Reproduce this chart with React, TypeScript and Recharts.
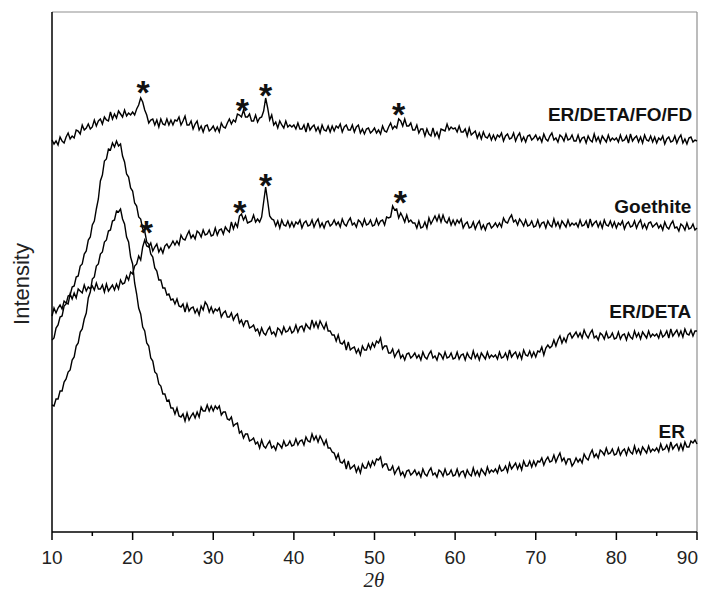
import React from 'react';
import { LineChart, Line, XAxis, YAxis, ReferenceLine, ReferenceDot } from 'recharts';

// Diffractograms sampled every 0.25° from 10° to 90° (2θ); intensities in arbitrary, offset units.
const START_ANGLE = 10;
const STEP = 0.25;

const ER_DETA_FO_FD = [
  392, 388, 391, 387, 395, 391, 389, 395, 399, 393, 396, 394, 402, 401, 398, 407, 402, 404, 408, 403,
  405, 412, 406, 411, 413, 408, 415, 412, 411, 420, 413, 418, 414, 421, 418, 415, 422, 416, 419, 417,
  420, 417, 423, 427, 434, 430, 422, 417, 409, 412, 413, 407, 412, 405, 413, 408, 407, 413, 407, 412,
  407, 412, 411, 415, 407, 411, 416, 407, 407, 411, 403, 408, 411, 402, 406, 400, 406, 407, 401, 403,
  406, 401, 405, 400, 409, 405, 404, 409, 413, 408, 412, 410, 418, 417, 415, 422, 415, 415, 418, 411,
  411, 417, 410, 414, 415, 421, 434, 424, 412, 417, 407, 410, 404, 411, 407, 404, 411, 405, 407, 405,
  407, 403, 409, 403, 403, 407, 400, 409, 402, 405, 407, 401, 405, 399, 407, 402, 401, 406, 400, 406,
  401, 406, 404, 408, 400, 405, 407, 402, 402, 407, 400, 405, 407, 399, 403, 398, 403, 404, 399, 401,
  404, 399, 402, 398, 406, 401, 400, 405, 409, 403, 406, 404, 413, 411, 406, 413, 406, 406, 409, 402,
  402, 407, 399, 403, 403, 396, 403, 398, 396, 404, 396, 400, 394, 403, 402, 401, 408, 402, 405, 403,
  404, 400, 406, 400, 400, 403, 396, 404, 397, 399, 401, 394, 399, 393, 400, 395, 394, 398, 392, 397,
  392, 397, 395, 399, 391, 396, 398, 393, 394, 399, 391, 396, 399, 391, 395, 390, 396, 397, 392, 394,
  397, 392, 395, 390, 398, 393, 391, 396, 399, 392, 394, 390, 397, 395, 391, 398, 392, 393, 397, 391,
  391, 397, 390, 394, 395, 389, 396, 392, 390, 398, 391, 395, 389, 396, 393, 390, 397, 391, 394, 392,
  394, 390, 397, 391, 392, 396, 389, 398, 391, 394, 396, 390, 395, 389, 397, 392, 391, 396, 390, 395,
  389, 394, 392, 396, 388, 393, 395, 390, 391, 396, 389, 394, 397, 389, 393, 388, 394, 395, 390, 392,
  391,
];

const GOETHITE = [
  216, 224, 219, 224, 227, 223, 231, 229, 228, 238, 233, 239, 234, 243, 241, 239, 247, 241, 245, 243,
  246, 242, 249, 243, 243, 247, 240, 248, 241, 244, 247, 242, 248, 243, 252, 248, 249, 256, 252, 260,
  258, 266, 268, 276, 272, 285, 292, 286, 285, 289, 281, 285, 288, 280, 284, 279, 286, 288, 284, 287,
  291, 287, 291, 287, 297, 293, 292, 297, 301, 294, 297, 293, 301, 299, 295, 302, 297, 298, 302, 296,
  297, 304, 297, 302, 303, 298, 305, 302, 300, 310, 303, 309, 305, 316, 318, 312, 316, 309, 310, 311,
  317, 310, 313, 310, 315, 330, 345, 331, 316, 313, 312, 306, 311, 304, 312, 307, 306, 311, 305, 310,
  305, 310, 308, 312, 304, 309, 311, 306, 307, 312, 305, 310, 313, 305, 309, 304, 310, 311, 306, 308,
  312, 307, 310, 305, 313, 308, 306, 311, 314, 307, 309, 305, 312, 310, 306, 313, 307, 308, 312, 306,
  307, 313, 307, 311, 312, 307, 315, 314, 315, 326, 322, 323, 314, 319, 315, 310, 317, 310, 312, 309,
  309, 304, 311, 304, 305, 310, 304, 314, 308, 312, 316, 311, 317, 310, 317, 311, 309, 314, 307, 312,
  307, 312, 309, 313, 304, 308, 310, 304, 305, 310, 303, 308, 311, 303, 307, 302, 308, 309, 304, 306,
  309, 305, 309, 305, 314, 310, 309, 314, 317, 310, 312, 307, 313, 310, 306, 312, 306, 307, 311, 305,
  306, 312, 305, 309, 310, 304, 311, 307, 305, 313, 306, 310, 304, 311, 308, 305, 312, 306, 309, 307,
  309, 305, 312, 306, 307, 311, 304, 313, 306, 309, 311, 305, 310, 304, 312, 307, 306, 311, 305, 310,
  304, 309, 307, 311, 303, 308, 310, 305, 306, 311, 304, 309, 312, 304, 308, 303, 309, 310, 305, 307,
  309, 304, 307, 302, 310, 305, 303, 308, 311, 304, 305, 301, 308, 306, 302, 309, 303, 304, 308, 302,
  304,
];

const ER_DETA = [
  192, 194, 204, 207, 215, 216, 226, 228, 236, 237, 245, 246, 255, 256, 266, 268, 278, 281, 292, 295,
  307, 311, 323, 333, 351, 357, 371, 373, 383, 382, 389, 385, 391, 386, 388, 376, 370, 358, 355, 344,
  341, 329, 326, 315, 313, 303, 301, 290, 288, 278, 275, 264, 261, 252, 252, 244, 244, 237, 238, 232,
  233, 228, 233, 226, 225, 228, 220, 228, 221, 224, 225, 219, 223, 217, 226, 222, 230, 227, 220, 225,
  219, 223, 221, 224, 215, 219, 221, 215, 215, 219, 212, 216, 218, 209, 212, 206, 211, 211, 204, 205,
  207, 201, 203, 197, 204, 199, 197, 202, 205, 198, 200, 196, 204, 202, 198, 205, 200, 201, 205, 199,
  201, 207, 200, 205, 206, 201, 208, 205, 203, 212, 205, 210, 204, 211, 207, 203, 209, 201, 201, 197,
  197, 191, 197, 189, 188, 191, 182, 190, 182, 184, 185, 179, 183, 177, 186, 182, 182, 188, 183, 189,
  185, 191, 189, 194, 183, 186, 186, 179, 179, 183, 175, 179, 182, 174, 177, 172, 178, 179, 174, 176,
  179, 174, 177, 172, 180, 175, 173, 178, 181, 174, 176, 172, 179, 177, 173, 180, 174, 175, 179, 173,
  174, 180, 173, 177, 178, 172, 179, 175, 173, 181, 174, 178, 172, 179, 176, 173, 180, 174, 177, 175,
  177, 173, 180, 174, 175, 179, 173, 182, 175, 178, 180, 174, 179, 173, 182, 177, 176, 181, 175, 180,
  175, 181, 180, 185, 177, 184, 187, 184, 186, 192, 186, 192, 196, 189, 194, 190, 197, 199, 194, 197,
  200, 195, 199, 194, 202, 197, 194, 199, 202, 194, 196, 192, 199, 197, 193, 200, 194, 195, 199, 193,
  194, 200, 193, 197, 198, 192, 199, 195, 193, 201, 195, 199, 193, 200, 197, 194, 201, 195, 198, 196,
  198, 194, 201, 195, 197, 201, 194, 203, 196, 199, 202, 196, 201, 195, 203, 198, 197, 202, 196, 201,
  201,
];

const ER = [
  127, 126, 133, 133, 141, 141, 150, 153, 160, 162, 172, 175, 186, 189, 200, 203, 213, 219, 234, 240,
  253, 255, 266, 268, 278, 280, 290, 292, 301, 302, 311, 312, 321, 320, 323, 313, 308, 295, 290, 275,
  268, 249, 238, 224, 218, 205, 201, 189, 186, 174, 171, 160, 158, 148, 146, 138, 138, 131, 132, 124,
  124, 118, 124, 116, 115, 118, 111, 119, 112, 116, 119, 114, 120, 115, 125, 121, 121, 127, 121, 126,
  121, 126, 123, 126, 117, 120, 120, 113, 112, 115, 106, 108, 109, 99, 101, 94, 98, 98, 91, 92,
  94, 88, 90, 84, 92, 86, 84, 88, 91, 84, 86, 82, 89, 87, 84, 91, 86, 87, 91, 86,
  87, 93, 87, 91, 92, 87, 95, 91, 90, 98, 92, 96, 90, 96, 92, 87, 92, 84, 84, 80,
  79, 73, 78, 70, 69, 72, 63, 71, 63, 65, 67, 60, 65, 59, 68, 64, 64, 70, 65, 71,
  67, 73, 72, 75, 65, 68, 68, 62, 62, 66, 58, 62, 65, 57, 60, 55, 61, 62, 57, 59,
  62, 57, 60, 55, 63, 58, 56, 61, 64, 57, 59, 55, 62, 60, 56, 63, 57, 58, 62, 56,
  57, 63, 56, 60, 61, 55, 62, 58, 56, 64, 57, 61, 56, 63, 60, 57, 65, 59, 62, 60,
  63, 59, 66, 61, 62, 66, 60, 69, 63, 66, 69, 63, 68, 62, 71, 66, 66, 71, 65, 71,
  66, 71, 70, 74, 67, 72, 75, 70, 71, 77, 70, 75, 79, 71, 74, 68, 73, 73, 66, 69,
  74, 70, 73, 69, 78, 74, 72, 78, 82, 75, 78, 74, 82, 80, 77, 84, 78, 79, 83, 77,
  78, 84, 77, 81, 83, 77, 84, 80, 78, 86, 79, 83, 78, 85, 82, 79, 86, 80, 83, 81,
  84, 80, 88, 82, 83, 87, 81, 90, 83, 86, 88, 82, 88, 82, 90, 85, 85, 91, 89, 92,
  88,
];

const X_TICKS = [10, 15, 20, 25, 30, 35, 40, 45, 50, 55, 60, 65, 70, 75, 80, 85, 90];

// Sample names, placed at the right end of each trace.
const CURVE_LABELS = [
  { text: 'ER/DETA/FO/FD', angle: 89.4, value: 411 },
  { text: 'Goethite', angle: 89.3, value: 319 },
  { text: 'ER/DETA', angle: 89.3, value: 214 },
  { text: 'ER', angle: 88.5, value: 94 },
];

// Goethite reflections marked with asterisks.
const STAR_MARKS = [
  { angle: 21.3, value: 447 },
  { angle: 33.6, value: 429 },
  { angle: 36.5, value: 444 },
  { angle: 53.0, value: 425 },
  { angle: 21.7, value: 307 },
  { angle: 33.3, value: 327 },
  { angle: 36.5, value: 354 },
  { angle: 53.2, value: 337 },
];

const data = ER.map((er, i) => ({
  angle: START_ANGLE + i * STEP,
  er,
  erDeta: ER_DETA[i],
  goethite: GOETHITE[i],
  fd: ER_DETA_FO_FD[i],
}));

const SANS = '"Liberation Sans", Arial, Helvetica, sans-serif';

function AngleTick(props: any) {
  const { x, y, payload } = props;
  const v = payload.value as number;
  const major = v % 10 === 0;
  return (
    <g>
      <line x1={x} y1={y} x2={x} y2={y + (major ? 8 : 4)} stroke="#000" strokeWidth={1.5} />
      {major && (
        <text
          x={v === 90 ? x + 1 : x}
          y={y + 32}
          textAnchor={v === 90 ? 'end' : 'middle'}
          fontSize={19}
          fill="#222"
          fontFamily={SANS}
        >
          {v}
        </text>
      )}
    </g>
  );
}

const seriesKeys = ['fd', 'goethite', 'erDeta', 'er'];

export default function App() {
  return (
    <div style={{ width: 701, height: 584 }}>
      <LineChart width={701} height={584} data={data} margin={{ top: 4, right: 12, left: 0, bottom: 0 }}>
        <XAxis
          dataKey="angle"
          type="number"
          domain={[10, 90]}
          ticks={X_TICKS}
          interval={0}
          tick={<AngleTick />}
          tickLine={false}
          tickSize={0}
          tickMargin={0}
          height={60}
          axisLine={{ stroke: '#000', strokeWidth: 1.5 }}
          label={{
            content: () => (
              <text
                x={366}
                y={579}
                textAnchor="middle"
                fontSize={21}
                fontStyle="italic"
                fill="#222"
                fontFamily='"Liberation Serif", "Times New Roman", serif'
              >
                2θ
              </text>
            ),
          }}
        />
        <YAxis
          type="number"
          domain={[0, 520]}
          width={44}
          tick={false}
          tickLine={false}
          axisLine={{ stroke: '#000', strokeWidth: 1.5 }}
          label={{
            content: () => (
              <text
                x={21}
                y={276}
                transform="rotate(-90 21 276)"
                textAnchor="middle"
                fontSize={22}
                fill="#222"
                fontFamily={SANS}
              >
                Intensity
              </text>
            ),
          }}
        />
        <ReferenceLine y={520} stroke="#8f8f8f" strokeWidth={1.2} />
        <ReferenceLine x={90} stroke="#8f8f8f" strokeWidth={1.2} />
        {seriesKeys.map((k) => (
          <Line
            key={k}
            dataKey={k}
            type="linear"
            stroke="#000"
            strokeWidth={1.4}
            dot={false}
            isAnimationActive={false}
          />
        ))}
        {CURVE_LABELS.map((l) => (
          <ReferenceDot
            key={l.text}
            x={l.angle}
            y={l.value}
            r={0}
            ifOverflow="visible"
            shape={(p: any) => (
              <text x={p.cx} y={p.cy} textAnchor="end" fontSize={19} fontWeight="bold" fill="#111" fontFamily={SANS}>
                {l.text}
              </text>
            )}
          />
        ))}
        {STAR_MARKS.map((s, i) => (
          <ReferenceDot
            key={i}
            x={s.angle}
            y={s.value}
            r={0}
            ifOverflow="visible"
            shape={(p: any) => (
              <text x={p.cx} y={p.cy + 19} textAnchor="middle" fontSize={34} fontWeight="bold" fill="#111" fontFamily={SANS}>
                *
              </text>
            )}
          />
        ))}
      </LineChart>
    </div>
  );
}
